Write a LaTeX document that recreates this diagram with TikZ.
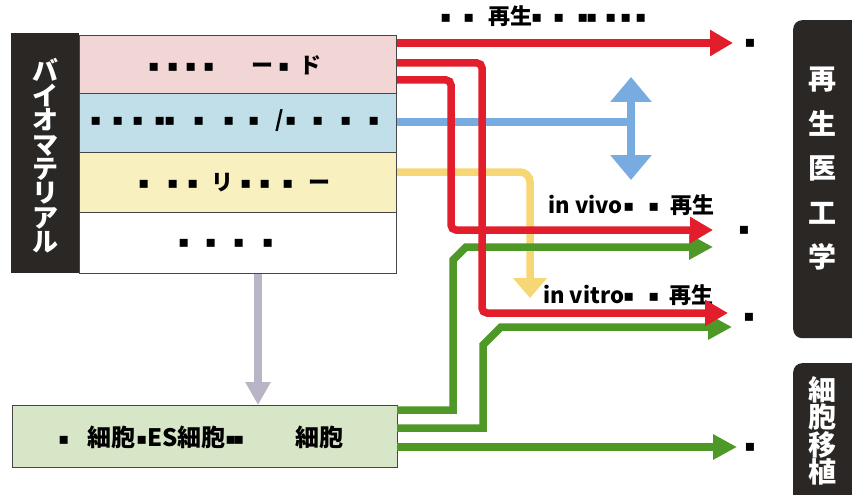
\documentclass[tikz,border=0pt]{standalone}
\usepackage{fontspec}
\setmainfont{Noto Sans CJK JP}
\newfontfamily\dv{DejaVu Sans}
\usetikzlibrary{arrows.meta}

\definecolor{darkbar}{RGB}{42,39,37}
\definecolor{edge}{RGB}{70,70,70}
\definecolor{rowpink}{RGB}{242,214,214}
\definecolor{rowblue}{RGB}{192,223,233}
\definecolor{rowyellow}{RGB}{249,240,192}
\definecolor{cellgreen}{RGB}{216,230,200}
\definecolor{flowred}{RGB}{226,30,45}
\definecolor{flowgreen}{RGB}{78,152,40}
\definecolor{flowblue}{RGB}{120,172,225}
\definecolor{flowyellow}{RGB}{247,214,118}
\definecolor{flowgray}{RGB}{186,181,198}

% small square glyph used as a placeholder mark
\newcommand\sq{{\dv\fontsize{16}{16}\selectfont\raisebox{2pt}{▪}}}
% put #2 centred at #1 pt from the left end of a text line
\newcommand\at[2]{\rlap{\hspace*{#1pt}\makebox[0pt]{#2}}\ignorespaces}

\tikzset{
  rowbox/.style={draw=edge, line width=0.8pt, minimum width=317pt, inner sep=0pt, anchor=north west},
  line/.style={anchor=base west, inner sep=0pt, font=\bfseries\fontsize{22}{22}\selectfont},
  flow/.style={line width=7.5pt},
  redflow/.style={flow, draw=flowred, rounded corners=5pt, -{Triangle[length=23pt,width=25pt]}},
  greenflow/.style={flow, draw=flowgreen, -{Triangle[length=24pt,width=24pt]}},
  darkbox/.style={fill=darkbar, rounded corners=9pt, minimum width=80pt, inner sep=0pt, anchor=north west},
  vtext/.style={text=white, align=center, inner sep=0pt},
}

\begin{document}
\begin{tikzpicture}[x=1pt, y=-1pt]
\useasboundingbox (0,0) rectangle (852,495);

% left stack of material classes
\node[fill=darkbar, minimum width=68pt, minimum height=240pt, inner sep=0pt, anchor=north west] (bar) at (11,33) {};
\node[vtext, font=\bfseries\fontsize{26}{24.4}\selectfont] (bartext) at (45,156) {バ\\イ\\オ\\マ\\テ\\リ\\ア\\ル};
\node[rowbox, fill=rowpink, minimum height=58pt] (pink) at (79,35) {};
\node[rowbox, fill=rowblue, minimum height=59pt] (blue) at (79,93) {};
\node[rowbox, fill=rowyellow, minimum height=60pt] (yellow) at (79,152) {};
\node[rowbox, fill=white, minimum height=61pt] (white) at (79,212) {};

\node[line] (pinktext) at (0,74) {\at{153}{\sq}\at{172}{\sq}\at{190}{\sq}\at{208}{\sq}\at{262}{ー}\at{283}{\sq}\at{310}{ド}};
\node[line] (bluetext) at (0,128) {\at{95}{\sq}\at{117}{\sq}\at{137}{\sq}\at{159}{\sq}\at{169}{\sq}\at{198}{\sq}\at{228}{\sq}\at{253}{\sq}\at{279}{/}\at{290}{\sq}\at{317}{\sq}\at{345}{\sq}\at{373}{\sq}};
\node[line] (yellowtext) at (0,190) {\at{143}{\sq}\at{172}{\sq}\at{192}{\sq}\at{222}{リ}\at{245}{\sq}\at{264}{\sq}\at{287}{\sq}\at{319}{ー}};
\node[line] (whitetext) at (0,249) {\at{183}{\sq}\at{210}{\sq}\at{238}{\sq}\at{267}{\sq}};

% stem cell box
\node[draw=edge, line width=0.8pt, fill=cellgreen, minimum width=385pt, minimum height=62pt, inner sep=0pt, anchor=north west] (cells) at (12,405) {};
\node[line, font=\bfseries\fontsize{24}{24}\selectfont] (cellstext) at (0,446) {\at{63}{\sq}\at{111}{細胞}\at{141}{\sq}\at{162}{ES}\at{201}{細胞}\at{230}{\sq}\at{238}{\sq}\at{319}{細胞}};

% right-hand category boxes
\node[darkbox, minimum height=318pt] (regen) at (793,20) {};
\node[vtext, font=\bfseries\fontsize{28}{44.5}\selectfont] (regentext) at (822,169) {再\\生\\医\\工\\学};
\node[darkbox, minimum height=150pt] (graft) at (793,363) {};
\node[vtext, font=\bfseries\fontsize{28}{27.5}\selectfont] (grafttext) at (822,431) {細\\胞\\移\\植};

% labels along the flows
\node[line] (toplabel) at (0,25) {\at{445}{\sq}\at{468}{\sq}\at{510}{再生}\at{536}{\sq}\at{558}{\sq}\at{582}{\sq}\at{591}{\sq}\at{610}{\sq}\at{625}{\sq}\at{640}{\sq}};
\node[line] (vivo) at (0,213) {\at{585}{in vivo}\at{628}{\sq}\at{653}{\sq}\at{692}{再生}};
\node[line] (vitro) at (0,303) {\at{583}{in vitro}\at{628}{\sq}\at{653}{\sq}\at{691}{再生}};

% end marks
\node[inner sep=0pt] (d1) at (750,44) {\sq};
\node[inner sep=0pt] (d2) at (744,231) {\sq};
\node[inner sep=0pt] (d3) at (749,318) {\sq};
\node[inner sep=0pt] (d4) at (750,448) {\sq};

% flow coordinates
\coordinate (rs1) at (397,43);
\coordinate (re1) at (733,43);
\coordinate (rs2) at (397,63);
\coordinate (re2) at (728,313);
\coordinate (rs3) at (397,80);
\coordinate (re3) at (713,230);
\coordinate (bs) at (397,122);
\coordinate (bj) at (631,122);
\coordinate (bt) at (631,77);
\coordinate (bb) at (631,180);
\coordinate (ys) at (397,172);
\coordinate (ye) at (530,298);
\coordinate (gs1) at (397,410);
\coordinate (ge1) at (713,247);
\coordinate (gs2) at (397,428);
\coordinate (ge2) at (732,327);
\coordinate (gs3) at (397,447);
\coordinate (ge3) at (737,447);

% material to cells
\draw[line width=8pt, draw=flowgray, -{Triangle[length=23pt,width=24pt]}] (white.south -| 258,0) -- (cells.north -| 258,0);

% yellow and blue flows
\draw[flow, draw=flowyellow, rounded corners=10pt, -{Triangle[length=20pt,width=33pt]}] (ys) -| (ye);
\draw[flow, draw=flowblue] (bs) -- (bj);
\draw[flow, draw=flowblue, {Triangle[length=25pt,width=40pt]}-{Triangle[length=25pt,width=40pt]}] (bt) -- (bb);

% green flows from cells
\draw[greenflow] (gs1) -- (453,410) -- (453,260) -- (466,247) -- (ge1);
\draw[greenflow] (gs2) -- (483,428) -- (483,345) -- (501,327) -- (ge2);
\draw[greenflow] (gs3) -- (ge3);

% red flows from materials
\draw[redflow] (rs1) -- (re1);
\draw[redflow] (rs3) -| (451,230) -- (re3);
\draw[redflow] (rs2) -| (482,313) -- (re2);
\end{tikzpicture}
\end{document}
